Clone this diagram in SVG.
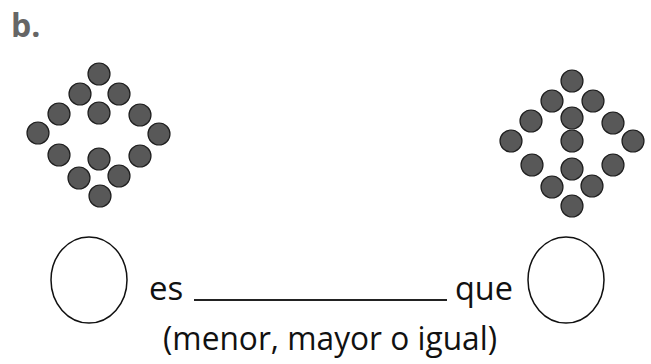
<svg xmlns="http://www.w3.org/2000/svg" width="651" height="364" viewBox="0 0 651 364">
<style>
.dot{fill:#585858;stroke:#1e1e1e;stroke-width:1.2}
.ring{fill:#fff;stroke:#111;stroke-width:1.5}
.t{font-family:"Open Sans","Liberation Sans",sans-serif;font-size:33px;fill:#111}
.lbl{font-family:"Open Sans","Liberation Sans",sans-serif;font-size:32px;font-weight:bold;fill:#666}
</style>
<rect width="651" height="364" fill="#fff"/>
<text class="lbl" x="11" y="37">b.</text>
<g id="left-dots">
<circle class="dot" cx="99" cy="74" r="11"/>
<circle class="dot" cx="80" cy="94" r="11"/>
<circle class="dot" cx="119" cy="94" r="11"/>
<circle class="dot" cx="59" cy="114" r="11"/>
<circle class="dot" cx="99" cy="113" r="11"/>
<circle class="dot" cx="140" cy="115" r="11"/>
<circle class="dot" cx="38" cy="133" r="11"/>
<circle class="dot" cx="159" cy="134" r="11"/>
<circle class="dot" cx="59" cy="155" r="11"/>
<circle class="dot" cx="99" cy="159" r="11"/>
<circle class="dot" cx="140" cy="156" r="11"/>
<circle class="dot" cx="79" cy="178" r="11"/>
<circle class="dot" cx="119" cy="176" r="11"/>
<circle class="dot" cx="100" cy="196" r="11"/>
</g>
<g id="right-dots">
<circle class="dot" cx="572" cy="81" r="11"/>
<circle class="dot" cx="552" cy="101" r="11"/>
<circle class="dot" cx="593" cy="101" r="11"/>
<circle class="dot" cx="531" cy="121" r="11"/>
<circle class="dot" cx="572" cy="118" r="11"/>
<circle class="dot" cx="613" cy="123" r="11"/>
<circle class="dot" cx="511" cy="141" r="11"/>
<circle class="dot" cx="572" cy="141" r="11"/>
<circle class="dot" cx="633" cy="141" r="11"/>
<circle class="dot" cx="532" cy="165" r="11"/>
<circle class="dot" cx="572" cy="169" r="11"/>
<circle class="dot" cx="613" cy="165" r="11"/>
<circle class="dot" cx="552" cy="187" r="11"/>
<circle class="dot" cx="592" cy="186" r="11"/>
<circle class="dot" cx="572" cy="206" r="11"/>
</g>
<g id="left-circle"><ellipse class="ring" cx="89" cy="280" rx="38" ry="43"/></g>
<g id="right-circle"><ellipse class="ring" cx="566" cy="280" rx="38" ry="43"/></g>
<g id="sentence">
<text class="t" x="149" y="300">es</text>
<line x1="194" y1="300" x2="447" y2="300" stroke="#222" stroke-width="1.8"/>
<text class="t" x="455" y="300" textLength="58" lengthAdjust="spacingAndGlyphs">que</text>
<text class="t" x="163" y="350" textLength="334" lengthAdjust="spacingAndGlyphs">(menor, mayor o igual)</text>
</g>
</svg>
